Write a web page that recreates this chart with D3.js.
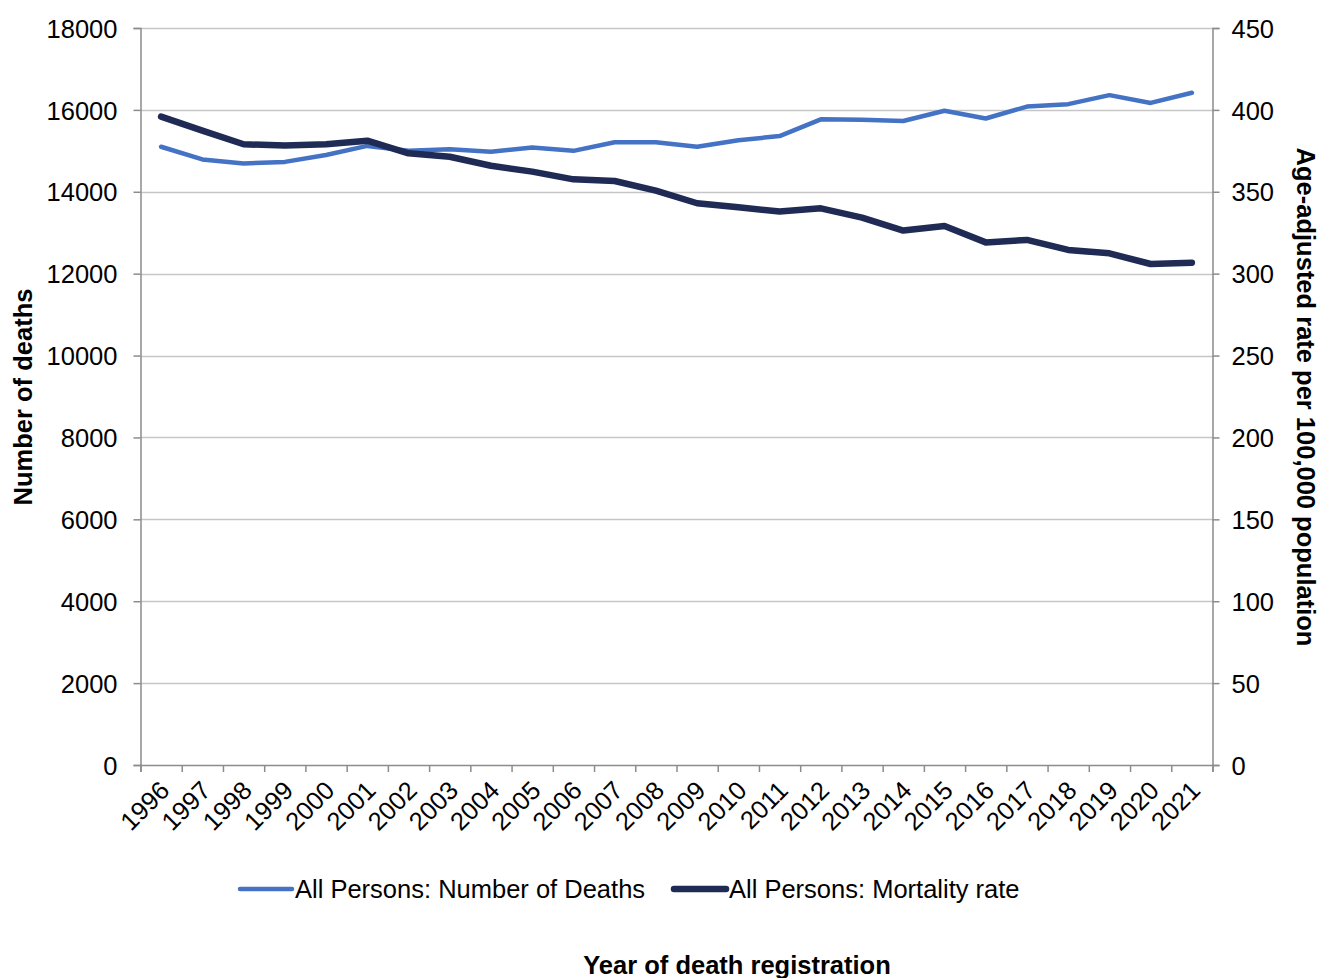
<!DOCTYPE html>
<html lang="en">
  <head>
    <meta charset="UTF-8" />
    <title>Deaths and mortality rate</title>
    <script src="https://d3js.org/d3.v7.min.js"></script>
    <style>
      body {
        margin: 0;
        background: #fff;
        font-family: "Liberation Sans", Arial, sans-serif;
      }
      .tick text {
        font-family: "Liberation Sans", Arial, sans-serif;
        font-size: 25.5px;
        fill: #000;
      }
      .axis-title {
        font-weight: bold;
        font-size: 25.5px;
      }
      .legend text {
        font-size: 25.5px;
      }
    </style>
  </head>
  <body>
    <svg width="1320" height="978"></svg>
    <script>
      // data
      const years = [
        "1996", "1997", "1998", "1999", "2000", "2001", "2002", "2003", "2004",
        "2005", "2006", "2007", "2008", "2009", "2010", "2011", "2012", "2013",
        "2014", "2015", "2016", "2017", "2018", "2019", "2020", "2021",
      ];
      const deaths = [
        15100, 14790, 14690, 14730, 14900, 15120, 15000, 15040, 14980,
        15080, 15000, 15210, 15210, 15100, 15260, 15360, 15770, 15760,
        15730, 15980, 15790, 16080, 16140, 16360, 16170, 16420,
      ];
      const mortality = [
        395.9, 387.3, 379.0, 378.2, 379.0, 381.2, 373.5, 371.4, 365.9,
        362.3, 357.6, 356.6, 350.7, 343.0, 340.5, 337.9, 339.9, 334.2,
        326.3, 329.1, 319.1, 320.6, 314.5, 312.4, 305.9, 306.7,
      ];
      const leftTicks = [0, 2000, 4000, 6000, 8000, 10000, 12000, 14000, 16000, 18000];
      const rightTicks = [0, 50, 100, 150, 200, 250, 300, 350, 400, 450];

      const svg = d3.select("svg");
      const plot = { left: 140.5, right: 1212.5, top: 28, bottom: 765 };

      const x = d3.scaleBand().domain(years).range([plot.left, plot.right]);
      const xi = d3.scaleLinear().domain([0, years.length]).range([plot.left, plot.right]);
      const yL = d3.scaleLinear().domain([0, 18000]).range([plot.bottom, plot.top]);
      const yR = d3.scaleLinear().domain([0, 450]).range([plot.bottom, plot.top]);

      // gridlines
      svg.append("g")
        .selectAll("line")
        .data(leftTicks.slice(1))
        .join("line")
        .attr("x1", plot.left)
        .attr("x2", plot.right)
        .attr("y1", (d) => Math.round(yL(d)) + 0.5)
        .attr("y2", (d) => Math.round(yL(d)) + 0.5)
        .attr("stroke", "#c6c6c6")
        .attr("stroke-width", 1.3);

      // left axis
      const gL = svg.append("g")
        .attr("transform", `translate(${plot.left},0)`)
        .call(d3.axisLeft(yL).tickValues(leftTicks).tickSize(7).tickPadding(16).tickFormat(d3.format("d")));
      // right axis
      const gR = svg.append("g")
        .attr("transform", `translate(${plot.right},0)`)
        .call(d3.axisRight(yR).tickValues(rightTicks).tickSize(7).tickPadding(12).tickFormat(d3.format("d")));
      // x axis tick marks at band edges
      const gX = svg.append("g")
        .attr("transform", `translate(0,${plot.bottom})`)
        .call(d3.axisBottom(xi).ticks(years.length).tickSize(7).tickFormat(""));
      // x labels
      const gXL = svg.append("g")
        .attr("transform", `translate(0,${plot.bottom})`)
        .call(d3.axisBottom(x).tickSize(0).tickPadding(0));
      gXL.select(".domain").remove();
      gXL.selectAll("text")
        .attr("text-anchor", "end")
        .attr("dy", 0)
        .attr("transform", "translate(10,27) rotate(-45)");

      [gL, gR, gX].forEach((g) => {
        g.select(".domain").attr("stroke", "#8c8c8c").attr("stroke-width", 1.5);
        g.selectAll(".tick line").attr("stroke", "#8c8c8c").attr("stroke-width", 1.5);
      });
      gL.selectAll(".tick text").attr("dy", "0.36em");
      gR.selectAll(".tick text").attr("dy", "0.36em");

      // lines
      const lineL = d3.line()
        .x((d, i) => x(years[i]) + x.bandwidth() / 2)
        .y((d) => yL(d));
      const lineR = d3.line()
        .x((d, i) => x(years[i]) + x.bandwidth() / 2)
        .y((d) => yR(d));

      svg.append("path")
        .datum(deaths)
        .attr("fill", "none")
        .attr("stroke", "#4472c4")
        .attr("stroke-width", 4.5)
        .attr("stroke-linecap", "round")
        .attr("stroke-linejoin", "round")
        .attr("d", lineL);

      svg.append("path")
        .datum(mortality)
        .attr("fill", "none")
        .attr("stroke", "#1f2a55")
        .attr("stroke-width", 6.5)
        .attr("stroke-linecap", "round")
        .attr("stroke-linejoin", "round")
        .attr("d", lineR);

      // axis titles
      svg.append("text")
        .attr("class", "axis-title")
        .attr("transform", "translate(32,397) rotate(-90)")
        .attr("text-anchor", "middle")
        .text("Number of deaths");

      svg.append("text")
        .attr("class", "axis-title")
        .attr("transform", "translate(1297,397) rotate(90)")
        .attr("text-anchor", "middle")
        .text("Age-adjusted rate per 100,000 population");

      svg.append("text")
        .attr("class", "axis-title")
        .attr("x", 737)
        .attr("y", 974)
        .attr("text-anchor", "middle")
        .text("Year of death registration");

      // legend
      const legendItems = [
        { label: "All Persons: Number of Deaths", color: "#4472c4", w: 4.5, x: 240 },
        { label: "All Persons: Mortality rate", color: "#1f2a55", w: 6.5, x: 674 },
      ];
      const lg = svg.append("g").attr("class", "legend");
      const item = lg.selectAll("g").data(legendItems).join("g")
        .attr("transform", (d) => `translate(${d.x},889)`);
      item.append("line")
        .attr("x1", 0)
        .attr("x2", 52)
        .attr("stroke", (d) => d.color)
        .attr("stroke-width", (d) => d.w)
        .attr("stroke-linecap", "round");
      item.append("text")
        .attr("x", 55)
        .attr("dy", "0.36em")
        .text((d) => d.label);
    </script>
  </body>
</html>
